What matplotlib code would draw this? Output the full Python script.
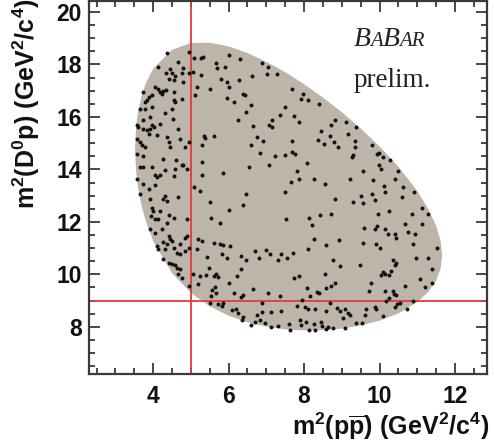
import matplotlib
matplotlib.use("Agg")
import matplotlib.pyplot as plt
from matplotlib.ticker import MultipleLocator
from matplotlib.transforms import offset_copy

# ---------------- data ----------------
# Kinematic (Dalitz) boundary read off the shaded region
boundary_mpp = [3.52, 3.55, 3.60, 3.70, 3.80, 4.00, 4.50, 5.00, 5.50, 6.00, 6.50,
                7.00, 7.50, 8.00, 8.50, 9.00, 9.50, 10.00, 10.50, 11.00, 11.30,
                11.50, 11.62, 11.66]
boundary_upper = [14.80, 15.66, 16.20, 16.84, 17.26, 17.84, 18.56, 18.82, 18.83, 18.69,
                  18.44, 18.10, 17.71, 17.25, 16.74, 16.18, 15.56, 14.88, 14.10, 13.18,
                  12.47, 11.85, 11.27, 10.73]
boundary_lower = [14.80, 13.90, 13.31, 12.57, 12.05, 11.27, 10.05, 9.29, 8.78, 8.42,
                  8.17, 8.01, 7.90, 7.86, 7.87, 7.93, 8.05, 8.23, 8.51, 8.94,
                  9.34, 9.76, 10.22, 10.73]

# candidate events (m2(p pbar), m2(D0 p))
events_upper_left = [
    (4.36, 18.42), (4.96, 18.48), (5.07, 18.25), (5.27, 18.25), (5.32, 18.29), (6.01, 18.38),
    (4.65, 18.10), (4.14, 17.91), (4.45, 17.82), (4.80, 17.87), (5.67, 18.04), (5.70, 17.85),
    (5.91, 17.91), (4.35, 17.66), (4.50, 17.66), (4.58, 17.57), (4.76, 17.66), (4.94, 17.68),
    (5.05, 17.72), (5.26, 17.59), (4.43, 17.46), (4.56, 17.40), (4.80, 17.34), (5.79, 17.46),
    (5.95, 17.34), (4.04, 17.15), (4.12, 17.08), (4.19, 16.95), (4.27, 16.98), (4.35, 17.02),
    (4.23, 16.89), (4.54, 16.95), (5.16, 17.15), (5.51, 17.08), (6.00, 17.15), (3.74, 16.95),
    (3.88, 16.76), (3.97, 16.85), (3.79, 16.57), (3.83, 16.64), (4.54, 16.64), (4.58, 16.57),
    (4.76, 16.70), (5.11, 16.85), (5.95, 16.73), (6.13, 16.57), (3.66, 16.32), (3.79, 16.32),
    (3.97, 16.38), (4.50, 16.32), (4.32, 16.16), (3.92, 16.00), (3.74, 15.87), (4.52, 15.94),
    (4.19, 15.74), (3.57, 15.71), (3.61, 15.62), (3.74, 15.55), (3.83, 15.49), (3.92, 15.55),
    (3.97, 15.68), (4.01, 15.62), (4.67, 15.55), (3.88, 15.36), (4.10, 15.30), (3.57, 15.17),
    (3.66, 15.04), (3.70, 14.92), (3.79, 14.85), (4.36, 15.23), (4.41, 15.04), (4.45, 14.85),
    (4.72, 15.17), (4.85, 14.85), (4.94, 15.04), (5.29, 14.92), (5.38, 15.20), (5.35, 15.27),
    (5.60, 15.27), (6.26, 15.87), (3.57, 14.60), (3.74, 14.53), (4.27, 14.41), (4.61, 14.34),
    (4.76, 14.18), (5.29, 14.28), (3.66, 14.09), (3.74, 14.09), (3.97, 14.09), (4.32, 13.96),
    (4.58, 14.02), (4.80, 14.15), (4.89, 14.02), (4.05, 13.77), (4.10, 13.70), (4.19, 13.77),
    (4.54, 13.74), (5.29, 13.77), (5.86, 13.87), (3.57, 13.64), (3.74, 13.45), (4.05, 13.41),
    (5.07, 13.32),
]
events_lower_left = [
    (3.66, 13.05), (3.88, 13.25), (3.92, 12.86), (3.97, 12.54), (3.99, 12.42), (3.94, 12.23),
    (4.05, 12.10), (4.19, 12.42), (4.14, 12.10), (4.27, 12.86), (4.36, 12.80), (4.32, 12.99),
    (4.67, 12.93), (5.25, 13.18), (5.51, 12.74), (6.00, 12.46), (4.43, 12.25), (4.54, 12.16),
    (4.36, 11.97), (4.91, 12.10), (5.53, 12.16), (5.76, 11.97), (3.92, 11.72), (4.05, 11.59),
    (4.23, 11.74), (4.41, 11.46), (4.45, 11.33), (4.50, 11.27), (4.36, 11.14), (4.27, 11.23),
    (4.10, 11.08), (4.14, 10.95), (4.32, 10.95), (4.54, 11.02), (4.72, 11.14), (4.85, 11.40),
    (4.89, 11.46), (4.94, 11.02), (4.85, 10.89), (4.63, 10.82), (4.70, 10.76), (5.20, 11.33),
    (5.29, 11.27), (5.62, 11.21), (5.78, 11.14), (5.86, 11.10), (6.04, 11.08), (4.27, 10.57),
    (4.41, 10.42), (4.50, 10.38), (4.58, 10.34), (4.63, 10.25), (4.72, 10.19), (4.67, 10.03),
    (4.76, 9.87), (5.16, 10.95), (5.44, 10.67), (5.82, 10.76), (5.95, 10.63), (5.05, 10.00),
    (5.25, 9.93), (5.40, 9.96), (5.60, 9.93), (5.67, 10.00), (5.73, 9.91), (5.47, 10.25),
    (6.22, 9.93), (4.94, 9.55), (5.20, 9.64), (5.55, 9.42), (5.64, 9.52), (5.67, 9.29),
    (5.53, 9.19), (6.02, 9.68), (6.15, 9.29), (5.51, 8.89), (5.73, 8.85), (5.82, 8.78),
    (5.86, 8.91), (6.08, 8.63), (6.20, 8.66), (6.26, 8.53),
]
events_upper_mid = [
    (6.30, 18.20), (6.89, 18.04), (7.05, 17.91), (6.62, 17.57), (7.03, 17.62), (7.29, 17.62),
    (6.27, 17.40), (6.38, 16.89), (6.43, 16.83), (7.68, 17.06), (7.97, 16.89), (7.93, 16.67),
    (8.11, 16.64), (8.39, 16.51), (6.59, 16.47), (7.49, 16.38), (6.45, 16.19), (7.36, 16.09),
    (7.74, 16.04), (7.86, 15.81), (7.15, 15.87), (7.06, 15.70), (7.15, 15.62), (6.65, 15.65),
    (8.83, 15.87), (8.71, 15.70), (8.46, 15.45), (8.68, 15.27), (6.76, 15.23), (6.91, 15.07),
    (7.68, 15.07), (8.37, 15.14), (8.53, 14.98), (8.80, 15.04), (8.90, 14.85), (6.59, 14.94),
    (6.83, 14.63), (7.24, 14.53), (7.49, 14.56), (7.68, 14.68), (7.77, 14.60), (8.09, 14.25),
    (6.53, 14.09), (7.06, 14.15), (7.82, 13.95), (7.66, 13.51), (7.87, 13.62), (8.27, 13.62),
    (8.55, 13.45),
]
events_lower_mid = [
    (6.47, 13.05), (7.49, 13.12), (6.38, 12.63), (8.81, 12.86), (7.53, 12.10), (8.12, 12.16),
    (8.42, 12.25), (8.72, 12.29), (8.21, 11.87), (8.27, 11.36), (8.92, 11.31), (8.59, 11.10),
    (8.11, 10.98), (6.69, 10.89), (7.00, 10.93), (7.09, 10.76), (7.40, 10.76), (7.71, 10.82),
    (6.32, 10.70), (6.47, 10.54), (6.80, 10.63), (7.31, 10.54), (7.56, 10.63), (8.77, 10.54),
    (6.34, 10.21), (8.95, 10.31), (7.74, 9.87), (7.86, 9.93), (8.55, 10.00), (6.65, 9.45),
    (7.05, 9.27), (7.36, 9.19), (8.09, 9.48), (8.39, 9.29), (8.33, 9.32), (8.57, 9.48),
    (8.72, 9.55), (8.83, 9.65), (6.38, 9.23), (6.34, 9.14), (8.15, 9.19), (6.89, 8.89),
    (7.95, 9.01), (8.68, 8.89), (7.80, 8.78), (8.02, 8.76), (8.11, 8.66), (8.30, 8.68),
    (8.59, 8.59), (8.86, 8.72), (8.95, 8.59), (6.38, 8.38), (6.36, 8.27), (6.74, 8.43),
    (6.89, 8.55), (7.12, 8.55), (7.38, 8.59), (6.69, 8.17), (6.83, 8.25), (6.96, 8.15),
    (7.13, 7.99), (7.31, 8.02), (7.59, 8.12), (7.62, 7.89), (7.89, 8.25), (7.93, 8.08),
    (8.06, 8.17), (8.12, 7.89), (8.27, 8.12), (8.28, 7.86), (8.44, 8.17), (8.48, 8.04),
    (8.57, 7.92), (8.64, 7.99), (8.77, 7.96), (6.60, 8.08),
]
events_upper_right = [
    (9.11, 15.79), (9.38, 15.60), (9.17, 15.35), (9.35, 15.09), (9.35, 14.84), (9.26, 14.48),
    (9.31, 14.56), (9.79, 14.94), (9.93, 14.58), (9.99, 14.61), (10.08, 14.48), (10.28, 14.35),
    (9.99, 14.17), (10.03, 14.01), (9.57, 13.95), (10.50, 13.95), (9.22, 13.63), (9.82, 13.59),
    (10.41, 13.63), (10.12, 13.37), (10.61, 13.33), (9.79, 13.08), (10.15, 13.12), (10.91, 13.12),
    (9.50, 12.99), (9.88, 12.82), (10.59, 12.93), (9.31, 12.77), (9.55, 12.73), (11.12, 12.52),
    (10.26, 12.42), (11.29, 12.29), (9.97, 12.29), (10.85, 12.29), (9.59, 11.75), (9.88, 11.72),
    (9.94, 11.84), (10.15, 11.72), (10.23, 11.52), (10.41, 11.55), (10.45, 11.40), (10.68, 11.93),
    (10.76, 11.63), (10.94, 11.52), (11.12, 11.91), (9.57, 11.21), (9.91, 11.14), (10.01, 10.99),
    (10.90, 11.14), (11.53, 11.01),
]
events_lower_right = [
    (10.35, 10.53), (10.44, 10.44), (10.41, 10.35), (9.48, 10.35), (10.98, 10.61), (11.29, 10.61),
    (11.38, 10.19), (10.08, 10.10), (10.15, 10.02), (10.30, 10.12), (10.03, 9.97), (10.26, 9.97),
    (11.07, 9.84), (9.77, 9.68), (11.38, 9.68), (10.68, 9.55), (11.21, 9.51), (9.73, 9.38),
    (10.15, 9.36), (10.35, 9.38), (10.38, 9.26), (10.44, 9.21), (10.26, 9.10), (10.17, 9.00),
    (10.88, 9.00), (10.54, 8.91), (10.47, 8.85), (10.41, 8.74), (10.72, 8.66), (9.88, 8.74),
    (9.91, 8.66), (9.09, 8.69), (9.17, 8.53), (9.04, 8.34), (9.22, 8.46), (9.64, 8.66),
    (9.62, 8.46), (10.10, 8.40), (9.53, 8.15), (9.38, 8.15), (9.09, 7.94),
]

cut_mpp = 5.0     # vertical red line
cut_mDp = 9.0     # horizontal red line

x_ticks = [4, 6, 8, 10, 12]
y_ticks = [8, 10, 12, 14, 16, 18, 20]

# ---------------- style ----------------
plt.rcParams['mathtext.fontset'] = 'custom'
plt.rcParams['mathtext.rm'] = 'Liberation Sans:bold'
plt.rcParams['mathtext.it'] = 'Liberation Sans:bold:italic'
plt.rcParams['mathtext.bf'] = 'Liberation Sans:bold'
plt.rcParams['font.family'] = ['Liberation Sans', 'DejaVu Sans']

fig = plt.figure(figsize=(4.94, 4.44), dpi=100)
ax = fig.add_axes([0.1802, 0.1577, 0.8057, 0.8400])

fill_color = '#BDB4AA'
poly_x = boundary_mpp + boundary_mpp[::-1]
poly_y = boundary_upper + boundary_lower[::-1]
ax.fill(poly_x, poly_y, color=fill_color, lw=0, zorder=1)

all_events = (events_upper_left + events_lower_left + events_upper_mid +
              events_lower_mid + events_upper_right + events_lower_right)
ex = [p[0] for p in all_events]
ey = [p[1] for p in all_events]

ax.axvline(cut_mpp, color='#E23A3A', lw=1.3, zorder=2)
ax.axhline(cut_mDp, color='#E23A3A', lw=1.3, zorder=2)
ax.scatter(ex, ey, s=8, marker='o', color='#111111', linewidths=0, zorder=3)

ax.set_xlim(2.30, 12.85)
ax.set_ylim(6.20, 20.42)
ax.set_xticks(x_ticks)
ax.set_yticks(y_ticks)
ax.xaxis.set_minor_locator(MultipleLocator(0.5))
ax.yaxis.set_minor_locator(MultipleLocator(0.5))

spine_color = '#3a3a3a'
for sp in ax.spines.values():
    sp.set_color(spine_color)
    sp.set_linewidth(1.6)
ax.tick_params(which='both', direction='in', top=True, right=True,
               color=spine_color, width=1.3)
ax.tick_params(which='major', length=8)
ax.tick_params(which='minor', length=4.5)
ax.tick_params(axis='x', which='major', pad=8)
ax.tick_params(axis='y', which='major', pad=5)
for lab in ax.get_xticklabels() + ax.get_yticklabels():
    lab.set_fontweight('bold')
    lab.set_fontsize(16.5)
    lab.set_color('#111111')

ax.set_xlabel(r'$\mathrm{m^2(p\overline{p})\ (GeV^2/c^4)}$', fontsize=18,
              color='#111111', ha='right')
ax.xaxis.set_label_coords(1.005, -0.100)
ax.xaxis.label.set_va('top')
ax.set_ylabel(r'$\mathrm{m^2(D^0p)\ (GeV^2/c^4)}$', fontsize=18,
              color='#111111', ha='right')
ax.yaxis.set_label_coords(-0.118, 1.006)

# BaBar logo text (small caps, italic serif)
fig.canvas.draw()
renderer = fig.canvas.get_renderer()
bx, by = 9.32, 18.70
x0 = ax.transData.transform((bx, by))[0]
pieces = [('B', 20), ('A', 15), ('B', 20), ('AR', 15)]
shift = 0.0
for s, fs in pieces:
    tr = offset_copy(ax.transData, fig=fig, x=shift, y=0, units='dots')
    t = ax.text(bx, by, s, transform=tr, fontsize=fs, family='Liberation Serif',
                style='italic', color='#222222', va='baseline', ha='left', zorder=5)
    bb = t.get_window_extent(renderer)
    shift = bb.x1 - x0 - 0.5
ax.text(9.30, 17.14, 'prelim.', fontsize=19.5, family='Liberation Serif',
        color='#222222', va='baseline', ha='left', zorder=5)

fig.savefig('out.png', dpi=100)
